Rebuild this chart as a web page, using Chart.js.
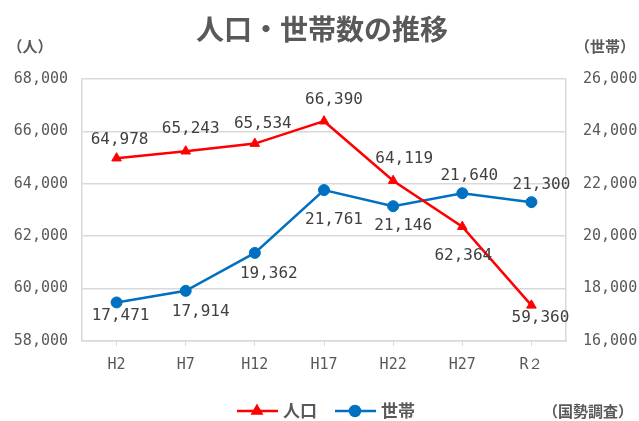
<!DOCTYPE html>
<html><head><meta charset="utf-8">
<script src="https://cdn.jsdelivr.net/npm/chart.js@4"></script>
<style>html,body{margin:0;padding:0;background:#fff}#w{width:639px;height:421px;position:relative}</style>
</head><body><div id="w"><canvas id="c" width="639" height="421"></canvas></div>
<script>
const categories = ['H2','H7','H12','H17','H22','H27','R２'];
const population = [64978, 65243, 65534, 66390, 64119, 62364, 59360];
const households = [17471, 17914, 19362, 21761, 21146, 21640, 21300];
const seriesNames = ['人口','世帯'];
const titleText = '人口・世帯数の推移';
const leftUnit = '（人）', rightUnit = '（世帯）', sourceText = '（国勢調査）';

const FONT = '"Noto Sans CJK JP", "Noto Sans", sans-serif';
const NUMFONT = '"DejaVu Sans Mono", monospace';
const TXT = '#595959';
const fmt = v => v.toLocaleString('en-US');

// label offsets relative to each point (style only)
const labelOffsets = [
  [[3,-18],[5,-22],[8,-20],[10,-21],[11,-22],[1,29],[9,12]],
  [[4,13],[15,21],[14,21],[10,30],[10,20],[7,-17],[10,-17]]
];

const extras = {
  id: 'extras',
  afterDatasetsDraw(chart) {
    const ctx = chart.ctx;
    ctx.save();
    ctx.font = '16px ' + NUMFONT;
    ctx.fillStyle = '#404040';
    ctx.textAlign = 'center';
    ctx.textBaseline = 'middle';
    [0, 1].forEach(di => {
      chart.getDatasetMeta(di).data.forEach((pt, i) => {
        const v = chart.data.datasets[di].data[i];
        const o = labelOffsets[di][i];
        ctx.fillText(fmt(v), pt.x + o[0], pt.y + o[1]);
      });
    });
    // title
    ctx.fillStyle = TXT;
    ctx.font = 'bold 28px ' + FONT;
    ctx.fillText(titleText, 322, 29);
    ctx.font = 'bold 15px ' + FONT;
    ctx.fillText(leftUnit, 30, 46);
    ctx.fillText(rightUnit, 605, 46);
    ctx.fillText(sourceText, 588, 411);
    // legend
    const ly = 411;
    const items = [
      {x: 237, color: chart.data.datasets[0].borderColor, style: 'triangle', text: seriesNames[0]},
      {x: 335, color: chart.data.datasets[1].borderColor, style: 'circle', text: seriesNames[1]}
    ];
    items.forEach(it => {
      ctx.strokeStyle = it.color; ctx.lineWidth = 2.5;
      ctx.beginPath(); ctx.moveTo(it.x, ly); ctx.lineTo(it.x + 41, ly); ctx.stroke();
      ctx.fillStyle = it.color;
      Chart.helpers.drawPoint(ctx, {pointStyle: it.style, radius: 5, borderWidth: 1, rotation: 0}, it.x + 20, ly);
      ctx.fillStyle = TXT;
      ctx.font = 'bold 17px ' + FONT;
      ctx.textAlign = 'left';
      ctx.fillText(it.text, it.x + 46, ly);
    });
    ctx.restore();
  }
};

new Chart(document.getElementById('c'), {
  type: 'line',
  data: {
    labels: categories,
    datasets: [
      {label: seriesNames[0], data: population, yAxisID: 'y', borderColor: '#FF0000', backgroundColor: '#FF0000',
       borderWidth: 2.5, pointStyle: 'triangle', pointRadius: 5.5, pointBorderWidth: 1, tension: 0},
      {label: seriesNames[1], data: households, yAxisID: 'y1', borderColor: '#0070C0', backgroundColor: '#0070C0',
       borderWidth: 2.5, pointStyle: 'circle', pointRadius: 5.5, pointBorderWidth: 1, tension: 0}
    ]
  },
  options: {
    responsive: false,
    animation: false,
    layout: {padding: {left: 10, right: 0, top: 79, bottom: 0}},
    plugins: {legend: {display: false}, title: {display: false}, tooltip: {enabled: false}},
    scales: {
      x: {
        offset: true,
        grid: {drawOnChartArea: false, color: '#d9d9d9', tickLength: 5},
        border: {color: '#d9d9d9', width: 1.5},
        ticks: {color: TXT, font: {family: NUMFONT, size: 15}, padding: 10, maxRotation: 0},
        afterFit: s => { s.height = 80; }
      },
      y: {
        position: 'left', min: 58000, max: 68000,
        grid: {color: '#d9d9d9', lineWidth: 1.5, drawTicks: false},
        border: {color: '#d9d9d9', width: 1.5},
        ticks: {stepSize: 2000, color: TXT, font: {family: NUMFONT, size: 15}, padding: 14, callback: v => fmt(v)},
        afterFit: s => { s.width = 72; }
      },
      y1: {
        position: 'right', min: 16000, max: 26000,
        grid: {drawOnChartArea: false, drawTicks: false},
        border: {color: '#d9d9d9', width: 1.5},
        ticks: {stepSize: 2000, color: TXT, font: {family: NUMFONT, size: 15}, padding: 17, callback: v => fmt(v)},
        afterFit: s => { s.width = 73; }
      }
    }
  },
  plugins: [extras]
});
</script></body></html>
